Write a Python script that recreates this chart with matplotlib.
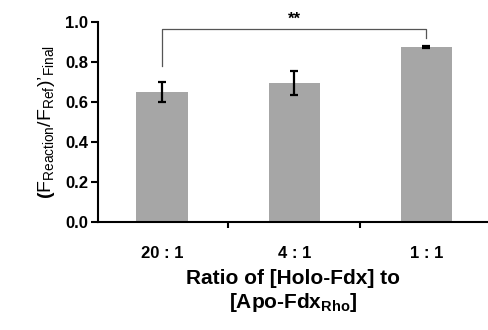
import numpy as np
import matplotlib
matplotlib.use("Agg")
import matplotlib.pyplot as plt

categorias = ["20 : 1", "4 : 1", "1 : 1"]
valores = [0.65, 0.695, 0.877]
erros = [0.05, 0.06, 0.005]

plt.rcParams["font.family"] = ["Liberation Sans", "DejaVu Sans"]
plt.rcParams["mathtext.fontset"] = "custom"
plt.rcParams["mathtext.rm"] = "Liberation Sans:bold"
plt.rcParams["mathtext.bf"] = "Liberation Sans:bold"
plt.rcParams["mathtext.it"] = "Liberation Sans:bold"

fig = plt.figure(figsize=(4.88, 3.3), dpi=100)
ax = fig.add_axes([0.201, 0.327, 0.80, 0.606])

x = np.arange(len(categorias))
ax.bar(x, valores, width=0.39, color="#a6a6a6", zorder=1)
ax.errorbar(x, valores, yerr=erros, fmt="none", ecolor="black",
            elinewidth=1.6, capsize=3, capthick=1.6, zorder=2)

ax.set_xlim(-0.485, 2.47)
ax.set_ylim(0, 1.0)
ax.set_yticks(np.arange(0, 1.01, 0.2))
ax.set_yticklabels([f"{v:.1f}" for v in np.arange(0, 1.01, 0.2)],
                   fontsize=12, fontweight="bold")
ax.set_xticks(x)
ax.set_xticklabels(categorias, fontsize=12, fontweight="bold")
ax.tick_params(axis="x", length=0, pad=17)
ax.set_xticks([0.5, 1.5], minor=True)
ax.tick_params(axis="x", which="minor", length=4, width=1.5, direction="out")
ax.tick_params(axis="y", length=5, width=1.5, direction="out", pad=2)

for lado in ["top", "right"]:
    ax.spines[lado].set_visible(False)
ax.spines["left"].set_linewidth(1.5)
ax.spines["bottom"].set_linewidth(1.5)

ax.set_ylabel(r"$(\mathregular{F_{Reaction}/F_{Ref})’_{Final}}$",
              fontsize=14, labelpad=6)
ax.set_xlabel("Ratio of [Holo-Fdx] to\n" + r"[Apo-Fdx$_{\mathregular{Rho}}$]",
              fontsize=15, fontweight="bold", labelpad=6, linespacing=1.2)

# barra de significância entre 20:1 e 1:1
ax.plot([0, 0, 2, 2], [0.78, 0.968, 0.968, 0.92], color="#555555",
        lw=0.9, clip_on=False)
ax.text(1, 0.975, "**", ha="center", va="bottom", fontsize=12,
        fontweight="bold")

fig.savefig("out.png", dpi=100)
